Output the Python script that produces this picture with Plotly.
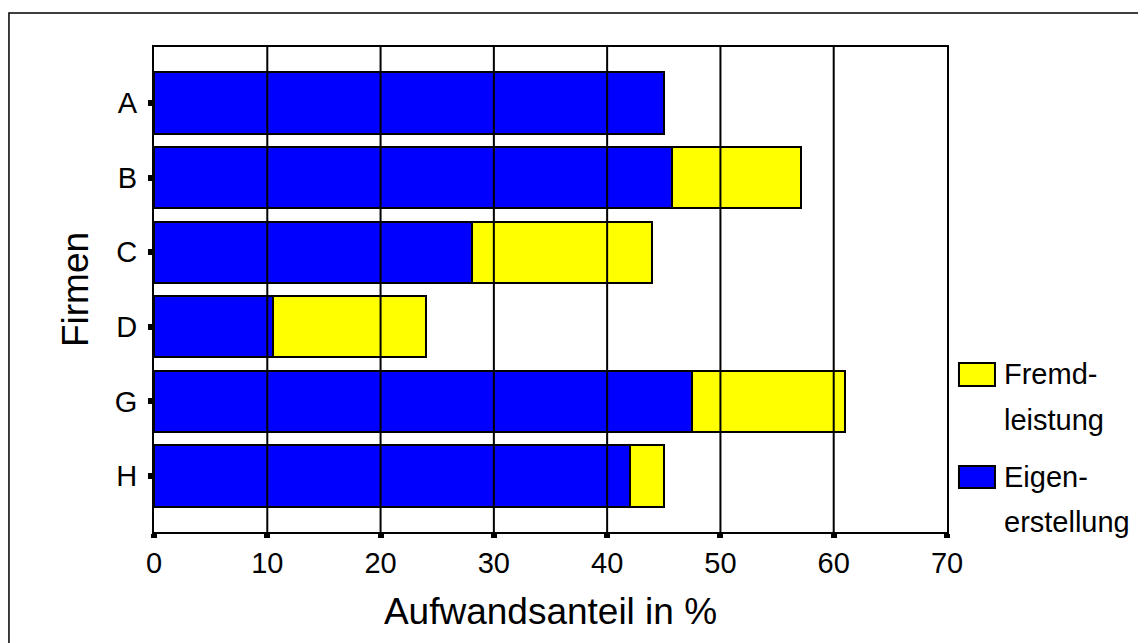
import plotly.graph_objects as go

firms = ["A", "B", "C", "D", "G", "H"]
eigen = [45.0, 45.7, 28.1, 10.5, 47.5, 42.0]
fremd = [0.0, 11.4, 15.9, 13.5, 13.5, 3.0]
series_names = ["Eigen-erstellung", "Fremd-leistung"]
x_ticks = [0, 10, 20, 30, 40, 50, 60, 70]
colors = ["#0000FF", "#FFFF00"]

FONT = "Liberation Sans, Arial, sans-serif"

fig = go.Figure()
for name, vals, col in zip(series_names, [eigen, fremd], colors):
    fig.add_trace(go.Bar(
        y=firms, x=vals, name=name, orientation="h",
        marker=dict(color=col, line=dict(color="black", width=2)),
        width=0.82, showlegend=False,
    ))

fig.update_layout(
    barmode="stack",
    width=1138, height=635,
    margin=dict(l=146, r=199, t=39, b=111),
    paper_bgcolor="white", plot_bgcolor="white",
    font=dict(family=FONT, color="black", size=29),
)
fig.update_xaxes(
    range=[0, 70], tickvals=x_ticks, ticktext=[str(v) for v in x_ticks],
    showgrid=False, zeroline=False,
    showline=True, linecolor="black", linewidth=2, mirror=True,
    ticks="outside", ticklen=4, tickwidth=6, tickcolor="black",
    tickfont=dict(size=29),
    title=dict(text="Aufwandsanteil in %", font=dict(size=37), standoff=20),
)
fig.update_yaxes(
    categoryorder="array", categoryarray=firms,
    range=[len(firms) - 0.25, -0.75],
    showgrid=False, zeroline=False,
    showline=True, linecolor="black", linewidth=2, mirror=True,
    ticks="outside", ticklen=4, tickwidth=6, tickcolor="black",
    tickfont=dict(size=29), ticklabelstandoff=5,
    title=dict(text="Firmen", font=dict(size=37), standoff=15),
)

# vertical grid lines drawn above bars
for v in x_ticks[1:-1]:
    fig.add_shape(type="line", xref="x", yref="paper", x0=v, x1=v, y0=0, y1=1,
                  line=dict(color="black", width=2), layer="above")

# outer frame
fig.add_shape(type="rect", xref="paper", yref="paper",
              x0=-0.1829, x1=1.5, y0=-0.5, y1=1.0701,
              line=dict(color="black", width=1.5), layer="below")

# manual legend (Fremdleistung on top)
legend_items = [(series_names[1], colors[1], 0.3485, 0.3010),
                (series_names[0], colors[0], 0.1361, 0.0907)]
for name, col, ytop, ybot in legend_items:
    fig.add_shape(type="rect", xref="paper", yref="paper",
                  x0=1.0151, x1=1.0605, y0=ybot, y1=ytop,
                  fillcolor=col, line=dict(color="black", width=2))
    first, second = name.split("-")
    yc = (ytop + ybot) / 2
    fig.add_annotation(xref="paper", yref="paper", x=1.0694, y=yc,
                       text=first + "-", showarrow=False, xanchor="left",
                       yanchor="middle", font=dict(size=29))
    fig.add_annotation(xref="paper", yref="paper", x=1.0694, y=yc - 0.0928,
                       text=second, showarrow=False, xanchor="left",
                       yanchor="middle", font=dict(size=29))

fig.write_html("out.html")
